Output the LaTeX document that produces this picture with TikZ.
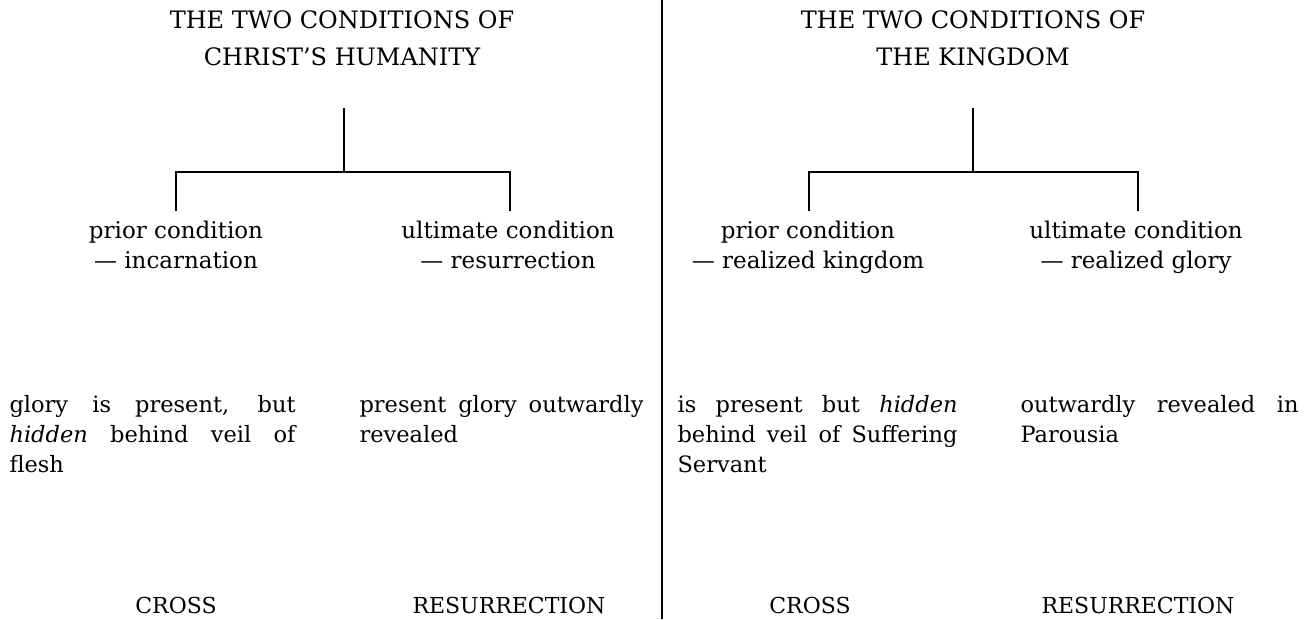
\documentclass[tikz,border=0pt]{standalone}
\usepackage{fontspec}
\setmainfont{DejaVu Serif}
\begin{document}
\begin{tikzpicture}[x=1pt,y=-1pt, line width=1.1pt,
  title/.style={font=\fontsize{24}{37}\selectfont, align=center, anchor=base, inner sep=0pt},
  cond/.style={font=\fontsize{23}{30}\selectfont, align=center, anchor=base, inner sep=0pt},
  para/.style={font=\fontsize{22.5}{30}\selectfont, text width=286pt, align=justify, anchor=base west, inner sep=0pt},
  foot/.style={font=\fontsize{22}{26}\selectfont, anchor=base, inner sep=0pt}]
\useasboundingbox (0,0) rectangle (1311,619);
% divider
\coordinate (dtop) at (662,0);
\coordinate (dbot) at (662,619);
\draw (dtop) -- (dbot);
% left half
\node[title] (t1) at (342,65) {THE TWO CONDITIONS OF\\CHRIST'S HUMANITY};
\coordinate (s1) at (344,108);
\coordinate (j1) at (344,172);
\coordinate (la) at (176,211);
\coordinate (lb) at (510,211);
\draw (s1) -- (j1);
\draw (la) |- (j1) -| (lb);
\node[cond] (pc1) at (176,268) {prior condition\\— incarnation};
\node[cond] (uc1) at (508,268) {ultimate condition\\— resurrection};
\node[para] (p1) at (9,412) {glory is present, but\linebreak \emph{hidden} behind veil of\linebreak flesh};
\node[para, text width=284pt] (p2) at (359,412) {present glory outwardly\linebreak revealed};
\node[foot] (f1) at (176,613) {CROSS};
\node[foot] (f2) at (509,613) {RESURRECTION};
% right half
\node[title] (t2) at (973,65) {THE TWO CONDITIONS OF\\THE KINGDOM};
\coordinate (s2) at (973,108);
\coordinate (j2) at (973,172);
\coordinate (ra) at (809,211);
\coordinate (rb) at (1138,211);
\draw (s2) -- (j2);
\draw (ra) |- (j2) -| (rb);
\node[cond] (pc2) at (808,268) {prior condition\\— realized kingdom};
\node[cond] (uc2) at (1136,268) {ultimate condition\\— realized glory};
\node[para, text width=280pt] (p3) at (677,412) {is present but \emph{hidden}\linebreak behind veil of Suffering\linebreak Servant};
\node[para, text width=278pt] (p4) at (1020,412) {outwardly revealed in\linebreak Parousia};
\node[foot] (f3) at (810,613) {CROSS};
\node[foot] (f4) at (1138,613) {RESURRECTION};
\end{tikzpicture}
\end{document}
